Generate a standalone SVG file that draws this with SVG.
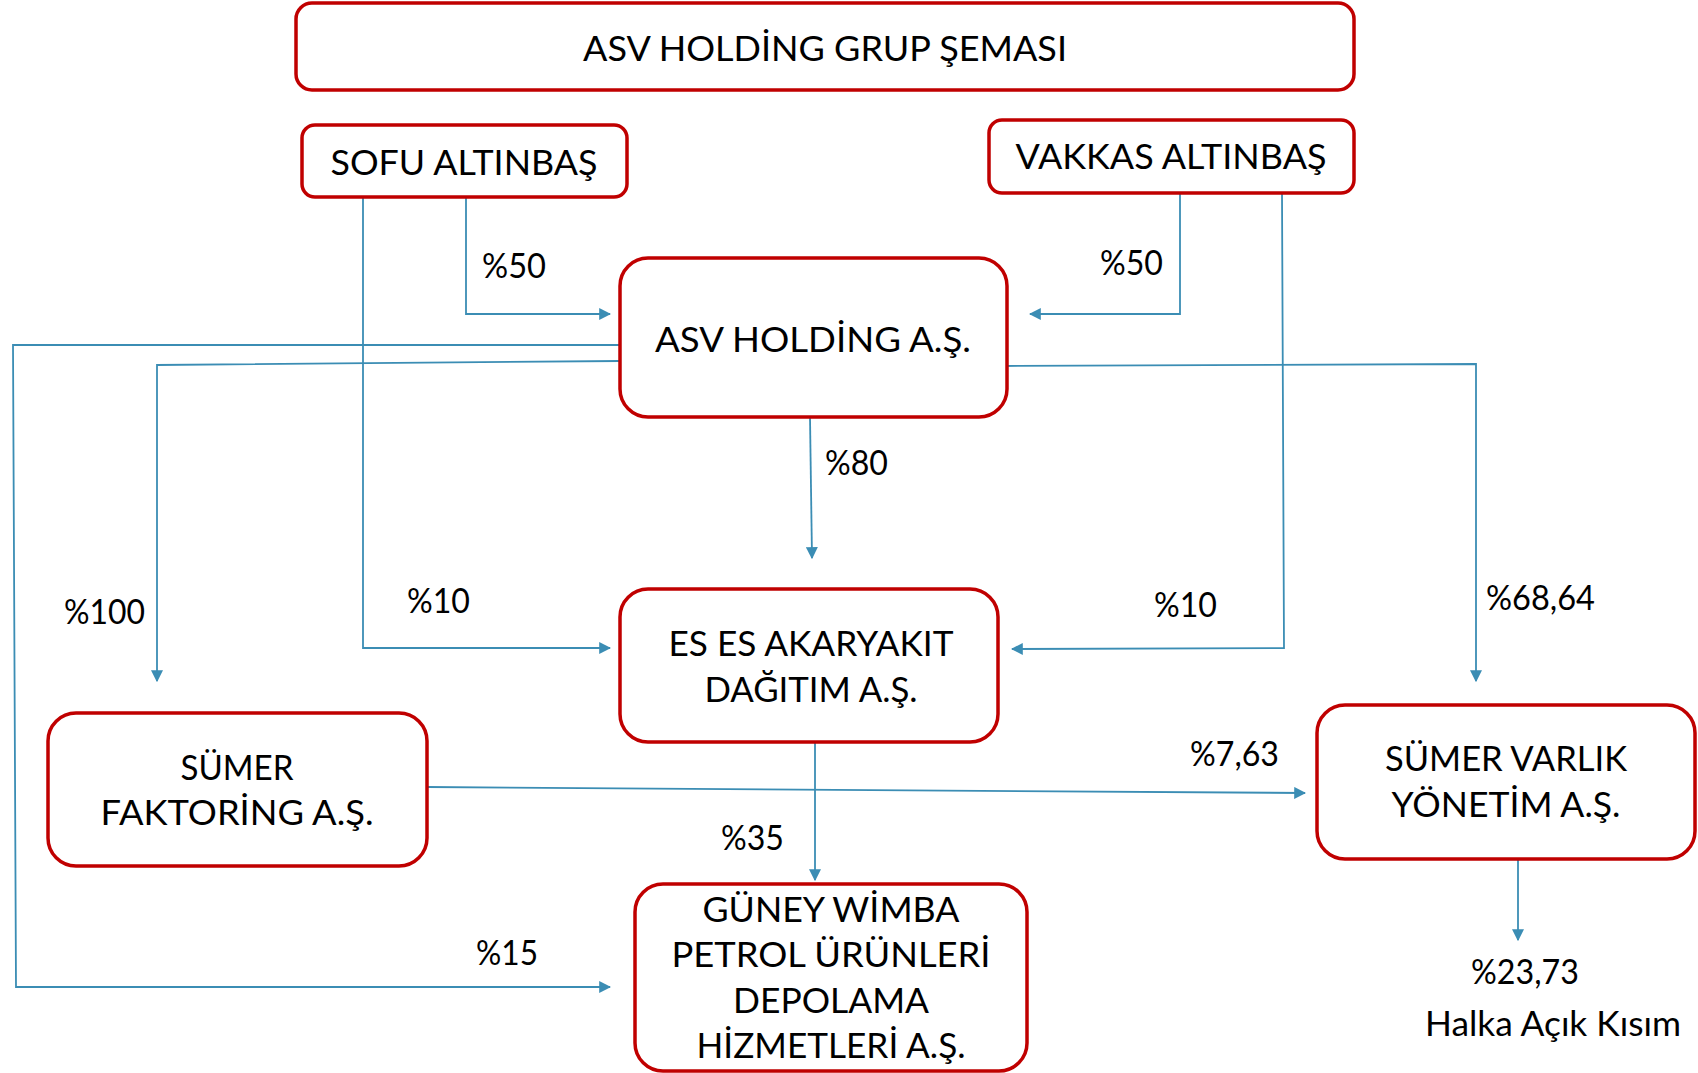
<svg xmlns="http://www.w3.org/2000/svg" width="1698" height="1073" viewBox="0 0 1698 1073">
<style>
.box{fill:#fff;stroke:#c00000;stroke-width:3.5}
.t{font-family:Lato,"Liberation Sans",sans-serif;font-size:35px;fill:#000;text-anchor:middle}
.l{font-family:Lato,"Liberation Sans",sans-serif;font-size:34px;fill:#000}
.c{fill:none;stroke:#3b8db4;stroke-width:1.8}
</style>
<defs>
<marker id="a" viewBox="0 0 10 10" refX="9" refY="5" markerWidth="12" markerHeight="12" markerUnits="userSpaceOnUse" orient="auto">
<path d="M0,0 L10,5 L0,10 z" fill="#3b8db4"/>
</marker>
</defs>
<rect width="1698" height="1073" fill="#fff"/>
<g id="connectors">
<polyline class="c" points="466,197 466,314 610,314" marker-end="url(#a)"/>
<polyline class="c" points="1180,193 1180,314 1030,314" marker-end="url(#a)"/>
<polyline class="c" points="363,197 363,648 610,648" marker-end="url(#a)"/>
<polyline class="c" points="1282,193 1284,648 1012,649" marker-end="url(#a)"/>
<polyline class="c" points="620,345 13,345 16,987 610,987" marker-end="url(#a)"/>
<polyline class="c" points="620,361 157,365 157,681" marker-end="url(#a)"/>
<polyline class="c" points="1002,366 1476,364 1476,681" marker-end="url(#a)"/>
<polyline class="c" points="810,417 812,558" marker-end="url(#a)"/>
<polyline class="c" points="815,742 815,880" marker-end="url(#a)"/>
<polyline class="c" points="427,787 1305,793" marker-end="url(#a)"/>
<polyline class="c" points="1518,859 1518,940" marker-end="url(#a)"/>
</g>
<g id="title">
<rect class="box" x="296" y="3" width="1058" height="87" rx="16"/>
<text class="t" x="825" y="61" textLength="484" lengthAdjust="spacingAndGlyphs">ASV HOLDİNG GRUP ŞEMASI</text>
</g>
<g id="sofu">
<rect class="box" x="302" y="125" width="325" height="72" rx="13"/>
<text class="t" x="464" y="175" textLength="267" lengthAdjust="spacingAndGlyphs">SOFU ALTINBAŞ</text>
</g>
<g id="vakkas">
<rect class="box" x="989" y="120" width="365" height="73" rx="13"/>
<text class="t" x="1171" y="169" textLength="311" lengthAdjust="spacingAndGlyphs">VAKKAS ALTINBAŞ</text>
</g>
<g id="asv">
<rect class="box" x="620" y="258" width="387" height="159" rx="28"/>
<text class="t" x="813" y="352" textLength="316" lengthAdjust="spacingAndGlyphs">ASV HOLDİNG A.Ş.</text>
</g>
<g id="eses">
<rect class="box" x="620" y="589" width="378" height="153" rx="28"/>
<text class="t" x="811" y="656" textLength="285" lengthAdjust="spacingAndGlyphs">ES ES AKARYAKIT</text>
<text class="t" x="811" y="702" textLength="213" lengthAdjust="spacingAndGlyphs">DAĞITIM A.Ş.</text>
</g>
<g id="faktoring">
<rect class="box" x="48" y="713" width="379" height="153" rx="28"/>
<text class="t" x="237" y="780" textLength="113" lengthAdjust="spacingAndGlyphs">SÜMER</text>
<text class="t" x="237" y="825" textLength="273" lengthAdjust="spacingAndGlyphs">FAKTORİNG A.Ş.</text>
</g>
<g id="varlik">
<rect class="box" x="1317" y="705" width="378" height="154" rx="28"/>
<text class="t" x="1506" y="771" textLength="242" lengthAdjust="spacingAndGlyphs">SÜMER VARLIK</text>
<text class="t" x="1506" y="817" textLength="229" lengthAdjust="spacingAndGlyphs">YÖNETİM A.Ş.</text>
</g>
<g id="guney">
<rect class="box" x="635" y="884" width="392" height="187" rx="28"/>
<text class="t" x="831" y="922" textLength="257" lengthAdjust="spacingAndGlyphs">GÜNEY WİMBA</text>
<text class="t" x="831" y="967" textLength="319" lengthAdjust="spacingAndGlyphs">PETROL ÜRÜNLERİ</text>
<text class="t" x="831" y="1013" textLength="196" lengthAdjust="spacingAndGlyphs">DEPOLAMA</text>
<text class="t" x="831" y="1058" textLength="269" lengthAdjust="spacingAndGlyphs">HİZMETLERİ A.Ş.</text>
</g>
<g id="labels">
<text class="l" x="482" y="278" textLength="64" lengthAdjust="spacingAndGlyphs">%50</text>
<text class="l" x="1100" y="275" textLength="63" lengthAdjust="spacingAndGlyphs">%50</text>
<text class="l" x="825" y="475" textLength="63" lengthAdjust="spacingAndGlyphs">%80</text>
<text class="l" x="64" y="624" textLength="81" lengthAdjust="spacingAndGlyphs">%100</text>
<text class="l" x="407" y="613" textLength="63" lengthAdjust="spacingAndGlyphs">%10</text>
<text class="l" x="1154" y="617" textLength="63" lengthAdjust="spacingAndGlyphs">%10</text>
<text class="l" x="1486" y="610" textLength="109" lengthAdjust="spacingAndGlyphs">%68,64</text>
<text class="l" x="1190" y="766" textLength="89" lengthAdjust="spacingAndGlyphs">%7,63</text>
<text class="l" x="721" y="850" textLength="63" lengthAdjust="spacingAndGlyphs">%35</text>
<text class="l" x="476" y="965" textLength="62" lengthAdjust="spacingAndGlyphs">%15</text>
<text class="l" x="1471" y="984" textLength="108" lengthAdjust="spacingAndGlyphs">%23,73</text>
<text class="l" x="1425" y="1036" textLength="256" lengthAdjust="spacingAndGlyphs">Halka Açık Kısım</text>
</g>
</svg>
